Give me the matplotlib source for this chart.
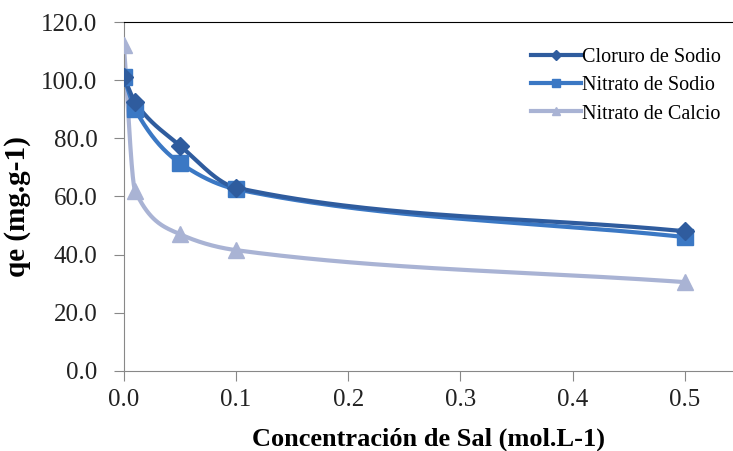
#!/usr/bin/env python3
import matplotlib
matplotlib.use('Agg')
import matplotlib.pyplot as plt
import numpy as np

# concentracion de sal (mol/L) y qe (mg/g)
conc = [0.0, 0.01, 0.05, 0.1, 0.5]
cloruro_sodio = [101.0, 92.5, 77.5, 63.0, 48.0]
nitrato_sodio = [101.0, 90.0, 71.5, 62.5, 46.0]
nitrato_calcio = [112.0, 62.0, 47.0, 41.5, 30.5]

series = [
    ('Cloruro de Sodio', cloruro_sodio, '#2f5c9e', 'D', 9),
    ('Nitrato de Sodio', nitrato_sodio, '#3b78c4', 's', 11),
    ('Nitrato de Calcio', nitrato_calcio, '#a9b3d4', '^', 11),
]

yticks = [0, 20, 40, 60, 80, 100, 120]
xticks = [0.0, 0.1, 0.2, 0.3, 0.4, 0.5]


def smooth(x, y, n=60):
    # curva suave monotona (Fritsch-Carlson) entre los puntos medidos
    x = np.asarray(x, float)
    y = np.asarray(y, float)
    h = np.diff(x)
    d = np.diff(y) / h
    m = np.zeros_like(y)
    m[0], m[-1] = d[0], d[-1]
    for i in range(1, len(x) - 1):
        if d[i - 1] * d[i] > 0:
            w1 = 2 * h[i] + h[i - 1]
            w2 = h[i] + 2 * h[i - 1]
            m[i] = (w1 + w2) / (w1 / d[i - 1] + w2 / d[i])
    xs, ys = [], []
    for i in range(len(x) - 1):
        t = np.linspace(0, 1, n)
        h00 = 2 * t ** 3 - 3 * t ** 2 + 1
        h10 = t ** 3 - 2 * t ** 2 + t
        h01 = -2 * t ** 3 + 3 * t ** 2
        h11 = t ** 3 - t ** 2
        xs.extend(x[i] + t * h[i])
        ys.extend(h00 * y[i] + h10 * h[i] * m[i] + h01 * y[i + 1] + h11 * h[i] * m[i + 1])
    return xs, ys


plt.rcParams['font.family'] = ['Liberation Serif', 'DejaVu Serif']

fig = plt.figure(figsize=(7.33, 4.51), dpi=100)
ax = fig.add_axes([0.169, 0.178, 0.831, 0.773])

for name, vals, color, mk, ms in series[::-1]:
    sx, sy = smooth(conc, vals)
    ax.plot(sx, sy, color=color, lw=3, zorder=2)
    ax.plot(conc, vals, ls='none', marker=mk, ms=ms, color=color, zorder=3)

handles = []
for name, vals, color, mk, ms in series:
    h, = ax.plot([], [], color=color, lw=3, marker=mk, ms=ms * 0.55, label=name)
    handles.append(h)
ax.legend(handles=handles, loc='upper right', bbox_to_anchor=(1.0, 0.96),
          frameon=False, fontsize=14.5, handlelength=2.5, handletextpad=0.05,
          labelspacing=0.45, borderaxespad=0.2)

ax.set_xlim(0, 0.543)
ax.set_ylim(0, 120)
ax.set_xticks(xticks)
ax.set_xticklabels([f'{v:.1f}' for v in xticks])
ax.set_yticks(yticks)
ax.set_yticklabels([f'{v:.1f}' for v in yticks])
ax.tick_params(labelsize=18, colors='#222222', length=7, color='#888888')
ax.tick_params(axis='y', pad=12)
ax.tick_params(axis='x', pad=6)

for s in ('left', 'bottom'):
    ax.spines[s].set_color('#888888')
ax.spines['top'].set_color('black')
ax.spines['right'].set_visible(False)

ax.set_xlabel('Concentración de Sal (mol.L-1)', fontsize=19, fontweight='bold', labelpad=12)
ax.set_ylabel('qe (mg.g-1)', fontsize=21, fontweight='bold')
ax.yaxis.set_label_coords(-0.152, 0.47)

fig.savefig('out.png', dpi=100)
